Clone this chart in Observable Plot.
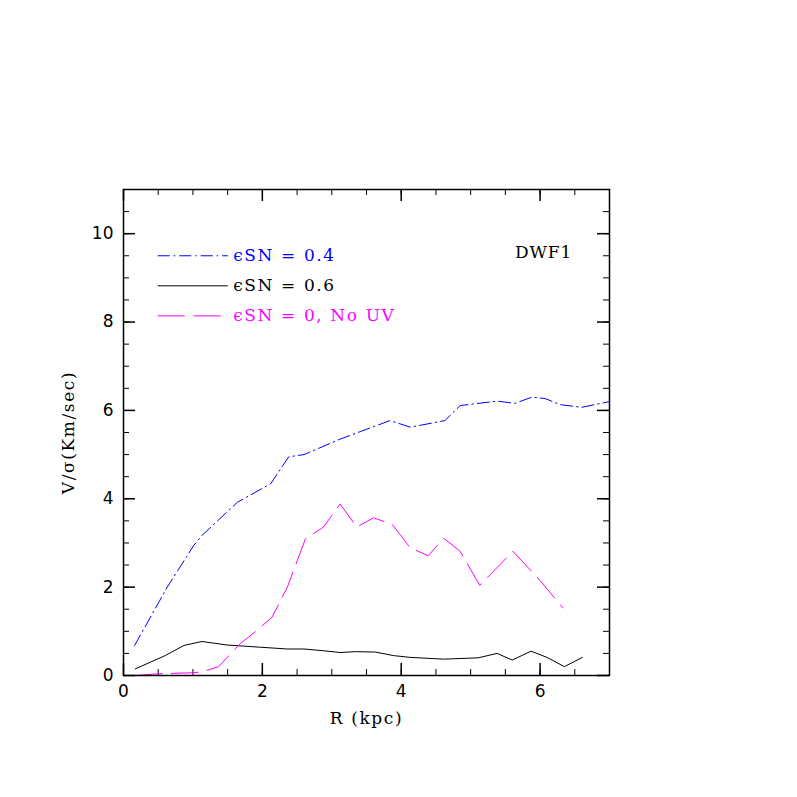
<!DOCTYPE html>
<html>
<head>
<meta charset="utf-8">
<script src="https://cdn.jsdelivr.net/npm/d3@7"></script>
<script src="https://cdn.jsdelivr.net/npm/@observablehq/plot@0.6"></script>
<style>
  html, body { margin: 0; padding: 0; background: #fff; }
  #chart { width: 797px; height: 797px; }
  .spaced text, text.spaced, .spaced { letter-spacing: 1.6px; }
  .panel text, text.panel, .panel { letter-spacing: 0.8px; }
</style>
</head>
<body>
<div id="chart"></div>
<script>
// Series: eSN = 0.4 (blue, dash-dot)
const blueR = [0.16, 0.63, 1.01, 1.13, 1.64, 2.12, 2.38, 2.6, 3.12, 3.41, 3.84, 4.13, 4.63, 4.85, 5.38, 5.64, 5.88, 6.07, 6.29, 6.6, 7.0];
const blueV = [0.68, 2.0, 2.94, 3.17, 3.92, 4.34, 4.95, 5.0, 5.35, 5.52, 5.77, 5.62, 5.77, 6.11, 6.21, 6.16, 6.3, 6.27, 6.13, 6.07, 6.2];
// Series: eSN = 0.6 (black, solid)
const blackR = [0.17, 0.6, 0.87, 1.13, 1.49, 1.97, 2.36, 2.6, 2.88, 3.12, 3.34, 3.63, 3.89, 4.13, 4.61, 5.11, 5.38, 5.6, 5.87, 6.1, 6.35, 6.61];
const blackV = [0.15, 0.45, 0.68, 0.77, 0.69, 0.64, 0.6, 0.6, 0.56, 0.52, 0.54, 0.53, 0.45, 0.41, 0.37, 0.4, 0.5, 0.35, 0.55, 0.41, 0.2, 0.41];
// Series: eSN = 0, No UV (magenta, long dash)
const magR = [0.17, 0.51, 0.96, 1.13, 1.37, 1.68, 1.92, 2.14, 2.36, 2.62, 2.88, 3.12, 3.36, 3.6, 3.87, 4.13, 4.39, 4.61, 4.85, 5.13, 5.61, 6.0, 6.33];
const magV = [0.0, 0.04, 0.06, 0.08, 0.2, 0.72, 1.02, 1.32, 2.0, 3.09, 3.36, 3.88, 3.36, 3.57, 3.42, 2.89, 2.71, 3.11, 2.81, 2.04, 2.81, 2.15, 1.53];

const legendLabels = ["\u03F5SN = 0.4", "\u03F5SN = 0.6", "\u03F5SN = 0, No UV"];
const legendColors = ["#0000ff", "#000000", "#ff00ff"];
const legendDash = ["12,4,1.5,4", null, "27,9"];
const panelLabel = "DWF1";
const xLabel = "R (kpc)";
const yLabel = "V/\u03C3(Km/sec)";

const xMajor = [0, 2, 4, 6];
const xMinor = d3.range(0, 7.01, 0.5);
const yMajor = [0, 2, 4, 6, 8, 10];
const yMinor = d3.range(0, 11.01, 0.5);

const toRows = (xs, ys) => xs.map((x, i) => ({x, y: ys[i]}));
const blue = toRows(blueR, blueV);
const black = toRows(blackR, blackV);
const mag = toRows(magR, magV);

const W = 797, H = 797, mL = 123, mR = 188, mT = 189, mB = 122;
const innerH = H - mT - mB, innerW = W - mL - mR;
const serif = "'DejaVu Serif', serif";
const sans = "'DejaVu Sans', sans-serif";

// legend layout (data space)
const legY = [9.5, 8.82, 8.14];
const legRows = legendLabels.map((label, i) => ({label, color: legendColors[i], dash: legendDash[i], y: legY[i]}));

const plot = Plot.plot({
  width: W, height: H,
  marginLeft: mL, marginRight: mR, marginTop: mT, marginBottom: mB,
  style: {fontFamily: serif, fontSize: "17px", color: "black", background: "white"},
  x: {domain: [0, 7], label: null},
  y: {domain: [0, 11], label: null},
  marks: [
    // minor & major ticks, inward, on all four sides
    Plot.tickX(xMinor, {x: d => d, insetTop: innerH - 6, stroke: "black", strokeWidth: 1}),
    Plot.tickX(xMinor, {x: d => d, insetBottom: innerH - 6, stroke: "black", strokeWidth: 1}),
    Plot.tickX(xMajor, {x: d => d, insetTop: innerH - 12, stroke: "black", strokeWidth: 1.5}),
    Plot.tickX(xMajor, {x: d => d, insetBottom: innerH - 12, stroke: "black", strokeWidth: 1.5}),
    Plot.tickY(yMinor, {y: d => d, insetRight: innerW - 6, stroke: "black", strokeWidth: 1}),
    Plot.tickY(yMinor, {y: d => d, insetLeft: innerW - 6, stroke: "black", strokeWidth: 1}),
    Plot.tickY(yMajor, {y: d => d, insetRight: innerW - 12, stroke: "black", strokeWidth: 1.5}),
    Plot.tickY(yMajor, {y: d => d, insetLeft: innerW - 12, stroke: "black", strokeWidth: 1.5}),
    Plot.axisX(xMajor, {anchor: "bottom", tickSize: 0, tickPadding: 9, label: null, fontFamily: sans, fontSize: 17}),
    Plot.axisY(yMajor, {anchor: "left", tickSize: 0, tickPadding: 10, label: null, fontFamily: sans, fontSize: 17}),
    Plot.axisX([], {anchor: "bottom", tickSize: 0, label: xLabel, labelAnchor: "center", labelOffset: 48, labelArrow: "none", fontSize: 17}),
    Plot.axisY([], {anchor: "left", tickSize: 0, label: yLabel, labelAnchor: "center", labelOffset: 62, labelArrow: "none", fontSize: 17}),
    Plot.line(blue, {x: "x", y: "y", stroke: "#0000ff", strokeWidth: 1, strokeDasharray: legendDash[0], clip: true}),
    Plot.line(black, {x: "x", y: "y", stroke: "#000000", strokeWidth: 1, clip: true}),
    Plot.line(mag, {x: "x", y: "y", stroke: "#ff00ff", strokeWidth: 1, strokeDasharray: legendDash[2], clip: true}),
    // legend
    ...legRows.map(r => Plot.ruleY([r.y], {x1: 0.5, x2: 1.51, stroke: r.color, strokeWidth: 1, strokeDasharray: r.dash})),
    Plot.text(legRows, {x: 1.58, y: "y", text: "label", fill: "color", textAnchor: "start", fontSize: 17, className: "spaced"}),
    Plot.text([panelLabel], {x: 6.46, y: 9.57, text: d => d, textAnchor: "end", fontSize: 17, fill: "black", className: "panel"}),
    Plot.frame({stroke: "black", strokeWidth: 1.5})
  ]
});
// widen axis-title letter spacing to mimic the original's font
d3.select(plot).selectAll("text")
  .filter(function() { const t = this.textContent; return t === xLabel || t === yLabel; })
  .style("letter-spacing", "1.6px");
document.getElementById("chart").appendChild(plot);
</script>
</body>
</html>
